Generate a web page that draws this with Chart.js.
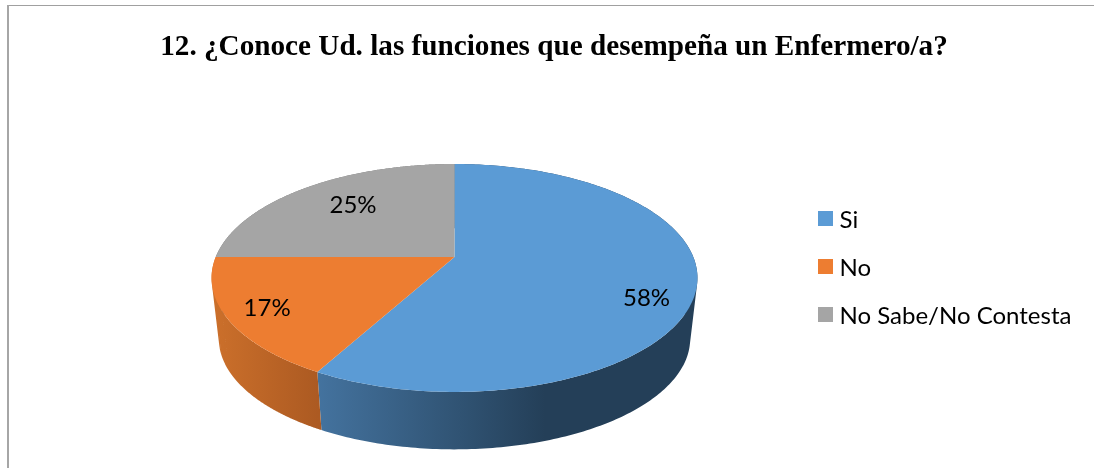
<!DOCTYPE html>
<html><head><meta charset="utf-8">
<style>html,body{margin:0;padding:0;background:#fff;overflow:hidden}
#wrap{position:relative;width:1094px;height:468px}
#frameT{position:absolute;left:7px;top:5px;right:0;height:1px;background:#a0a0a0}
#frameL{position:absolute;left:7px;top:5px;bottom:0;width:2px;background:#a6a6a6}
canvas{position:absolute;left:0;top:0}
</style>
<script src="https://cdn.jsdelivr.net/npm/chart.js@4"></script>
</head><body><div id="wrap"><canvas id="c" width="1094" height="468"></canvas><div id="frameT"></div><div id="frameL"></div></div>
<script>
const titleText = "12. ¿Conoce Ud. las funciones que desempeña un Enfermero/a?";
const categories = ["Si", "No", "No Sabe/No Contesta"];
const values = [58, 17, 25];
const colors = ["#5b9bd5", "#ed7d31", "#a5a5a5"];

const P = {cx:454.5, ay:257, A:238.8, a:110.1, k:-0.184, depth:61.5, s:0.97};
function proj(theta, r, bottom){
  const u = Math.sin(theta)*r, v = -Math.cos(theta)*r, w = 1+P.k*v;
  const s = bottom?P.s:1;
  return {x:P.cx + s*P.A*u/w, y:P.ay + (bottom?P.depth:0) + s*P.a*v/w};
}
const wallStops = [
  [[316,"#44739f"],[460,"#305373"],[545,"#243f58"],[697,"#243f58"]],
  [[212,"#cc702b"],[318,"#ac5a22"]],
  [[212,"#777"],[697,"#777"]]
];
const labelR = [0.8,0.84,0.68];
const labelNudge = [[0,19],[0,0],[4,-3]];

function swatch(color){
  const c=document.createElement('canvas'); c.width=15; c.height=19;
  const x=c.getContext('2d'); x.fillStyle=color; x.fillRect(0,0,15,15);
  return c;
}
const swatches = colors.map(swatch);

const pie3d = {
  id:'pie3d',
  beforeDraw(chart){
    const l = chart.legend;
    l.left = 799.5; l.top = 184.5;
    chart.titleBlock.left = 14; chart.titleBlock.right = 1094;
  },
  beforeDatasetsDraw(chart){
    const ctx = chart.ctx, arcs = chart.getDatasetMeta(0).data;
    const base = -Math.PI/2;
    const range = i => [arcs[i].startAngle-base, arcs[i].endAngle-base];
    const N = 240;
    [2,0,1].forEach(i=>{
      const [a,b] = range(i);
      const st = wallStops[i], x0=st[0][0], x1=st[st.length-1][0];
      const g = ctx.createLinearGradient(x0,0,x1,0);
      st.forEach(([x,c])=>g.addColorStop((x-x0)/(x1-x0),c));
      ctx.beginPath();
      for(let n=0;n<N;n++){
        const t0=a+(b-a)*n/N, t1=a+(b-a)*(n+1)/N;
        let q=[proj(t0,1,false),proj(t1,1,false),proj(t1,1,true),proj(t0,1,true)];
        let area=0; q.forEach((p,j)=>{const r=q[(j+1)%4]; area+=p.x*r.y-r.x*p.y;});
        if(area<0) q.reverse();
        q.forEach((p,j)=>j?ctx.lineTo(p.x,p.y):ctx.moveTo(p.x,p.y));
        ctx.closePath();
      }
      ctx.fillStyle=g; ctx.fill('nonzero');
    });
    [0,1,2].forEach(i=>{
      const [a,b] = range(i);
      ctx.beginPath();
      const o=proj(0,0,false); ctx.moveTo(o.x,o.y);
      for(let n=0;n<=N;n++){const p=proj(a+(b-a)*n/N,1,false); ctx.lineTo(p.x,p.y);}
      ctx.closePath(); ctx.fillStyle=colors[i]; ctx.fill();
    });
    ctx.save();
    ctx.font='24px Lato'; ctx.fillStyle='#000'; ctx.textAlign='center'; ctx.textBaseline='middle';
    values.forEach((val,i)=>{
      const [a,b]=range(i);
      const p=proj((a+b)/2,labelR[i],false);
      ctx.fillText(val+'%',p.x+labelNudge[i][0],p.y+labelNudge[i][1]);
    });
    ctx.restore();
    return false;
  }
};

new Chart(document.getElementById('c'),{
  type:'pie',
  data:{labels:categories,datasets:[{data:values,backgroundColor:colors,borderWidth:0}]},
  options:{
    responsive:false,animation:false,
    plugins:{
      tooltip:{enabled:false},
      title:{display:true,text:titleText,color:'#000',font:{family:'"Liberation Serif"',size:29.2,weight:'bold'},padding:{top:30,bottom:10}},
      legend:{position:'right',align:'start',labels:{
        usePointStyle:true,boxWidth:4,pointStyleWidth:4,boxHeight:15,padding:24,color:'#000',font:{family:'Lato',size:24},
        generateLabels:()=>categories.map((text,i)=>({text,fillStyle:colors[i],strokeStyle:colors[i],lineWidth:0,pointStyle:swatches[i],fontColor:'#000',hidden:false,index:i}))
      }}
    }
  },
  plugins:[pie3d]
});
</script></body></html>
